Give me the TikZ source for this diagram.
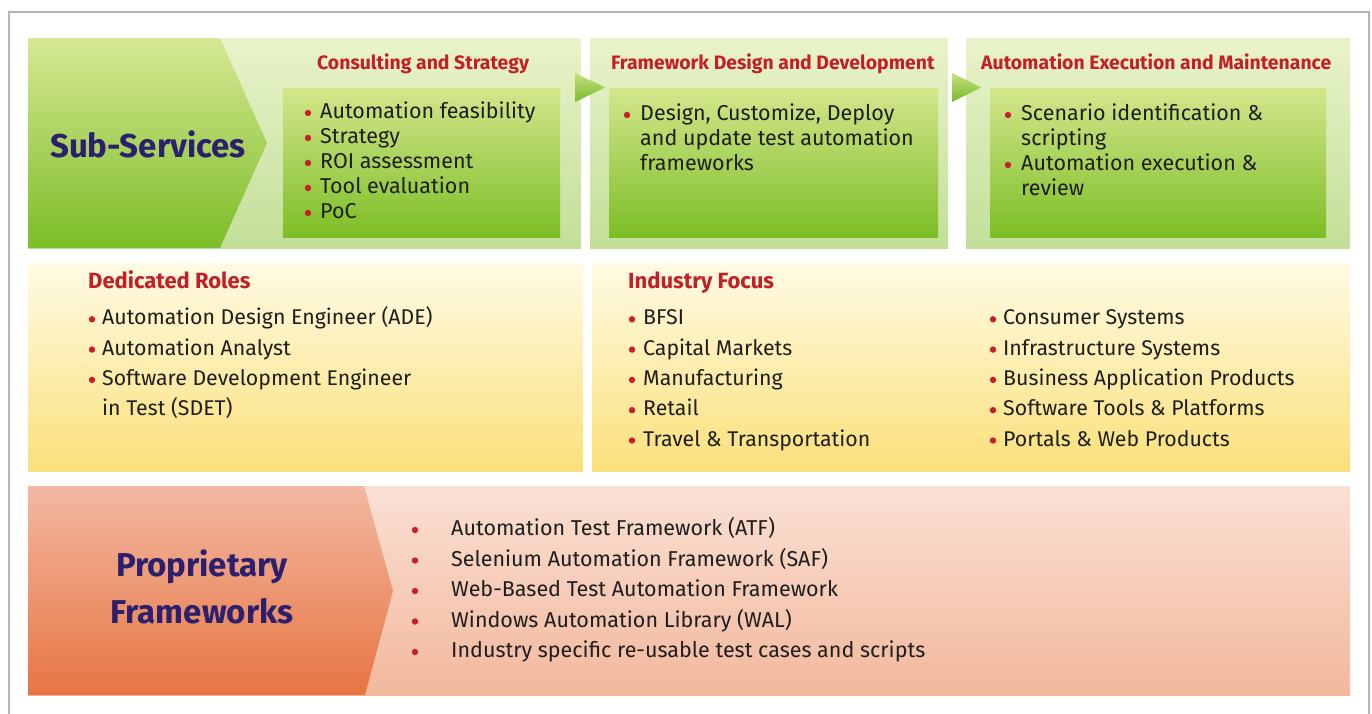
\documentclass[tikz,border=0pt]{standalone}
\usepackage{fontspec}
\setmainfont{Fira Sans}
\definecolor{txtc}{HTML}{1E1E1E}
\definecolor{redt}{HTML}{C41E26}
\definecolor{bulred}{HTML}{C8202A}
\definecolor{navy}{HTML}{2B1F6E}
\definecolor{bordc}{HTML}{B4B4B4}
\definecolor{lgA}{HTML}{E9F3CA}
\definecolor{lgB}{HTML}{C2DF98}
\definecolor{dgA}{HTML}{D6E894}
\definecolor{dgM}{HTML}{ACD458}
\definecolor{dgB}{HTML}{7CBD28}
\definecolor{igA}{HTML}{D4E68C}
\definecolor{igM}{HTML}{B4D862}
\definecolor{igB}{HTML}{7CBE26}
\definecolor{trA}{HTML}{C4E080}
\definecolor{trB}{HTML}{7ABA2A}
\definecolor{yeA}{HTML}{FFFBE4}
\definecolor{yeM}{HTML}{FDF0BC}
\definecolor{yeB}{HTML}{FAE07A}
\definecolor{pkA}{HTML}{FAE0D4}
\definecolor{pkB}{HTML}{F2B89C}
\definecolor{orA}{HTML}{F2B8A2}
\definecolor{orM}{HTML}{F0A888}
\definecolor{orB}{HTML}{E87542}
\begin{document}
\begin{tikzpicture}[x=1pt,y=-1pt,
  itemA/.style={anchor=base west, inner sep=0, text=txtc, font=\fontsize{21.5}{21.5}\selectfont},
  itemB/.style={anchor=base west, inner sep=0, text=txtc, font=\fontsize{21.3}{21.3}\selectfont},
  itemC/.style={anchor=base west, inner sep=0, text=txtc, font=\fontsize{21.5}{21.5}\selectfont},
  redtitle/.style={anchor=base west, inner sep=0, text=redt, font=\fontsize{19.4}{19.4}\selectfont\bfseries},
  redtitleB/.style={anchor=base west, inner sep=0, text=redt, font=\fontsize{22}{22}\selectfont\bfseries},
  bigtitle/.style={anchor=center, inner sep=0, text=navy, font=\fontsize{33}{33}\selectfont\bfseries},
  bul/.style={fill=bulred},
  lgsec/.style={top color=lgA, bottom color=lgB},
  igbox/.style={top color=igA, middle color=igM, bottom color=igB},
  tri/.style={top color=trA, bottom color=trB},
  yebox/.style={top color=yeA, middle color=yeM, bottom color=yeB}
]
\useasboundingbox (0,0) rectangle (1372,713);
\fill[white] (0,0) rectangle (1372,713);
% outer border
\draw[bordc, line width=2] (9,720) -- (9,12) -- (1369,12) -- (1369,720);

% ---------- green band ----------
\shade[lgsec] (28,38) rectangle (581,248);
\shade[lgsec] (590,38) rectangle (948,248);
\shade[lgsec] (966,38) rectangle (1350,248);
\shade[top color=dgA, middle color=dgM, bottom color=dgB]
  (28,38) -- (220,38) -- (267,143) -- (220,248) -- (28,248) -- cycle;
\node[bigtitle] (sub) at (148,144) {Sub-Services};
% inner boxes
\shade[igbox] (283,88) rectangle (560,237);
\shade[igbox] (609,88) rectangle (938,237);
\shade[igbox] (990,88) rectangle (1326,237);
% small arrows
\shade[tri] (575,73) -- (605,87.5) -- (575,102) -- cycle;
\shade[tri] (952,73) -- (981,87.5) -- (952,102) -- cycle;
% titles
\node[redtitle] (t1) at (317,69.5) {Consulting and Strategy};
\node[redtitle] (t2) at (611,69.5) {Framework Design and Development};
\node[redtitle] (t3) at (981,69.5) {Automation Execution and Maintenance};
% box 1
\foreach \t [count=\i] in {Automation feasibility, Strategy, ROI assessment, Tool evaluation, PoC} {
  \pgfmathsetmacro\yy{86+25*\i}
  \fill[bul] (308,\yy+2) circle (3.2);
  \node[itemA] (a\i) at (320,\yy+7.5) {\t};
}
% box 2
\fill[bul] (627,115) circle (3.2);
\node[itemA] (b1) at (640,120.5) {Design, Customize, Deploy};
\node[itemA] (b2) at (640,145.5) {and update test automation};
\node[itemA] (b3) at (640,170.5) {frameworks};
% box 3
\fill[bul] (1008,115) circle (3.2);
\node[itemA] (c1) at (1021,120.5) {Scenario identification \&};
\node[itemA] (c2) at (1021,145.5) {scripting};
\fill[bul] (1008,165) circle (3.2);
\node[itemA] (c3) at (1021,170.5) {Automation execution \&};
\node[itemA] (c4) at (1021,195.5) {review};

% ---------- yellow band ----------
\shade[yebox] (28,263) rectangle (583,471);
\shade[yebox] (592,263) rectangle (1350,471);
\node[redtitleB] (dr) at (88,288.5) {Dedicated Roles};
\node[redtitleB] (if) at (628,288.5) {Industry Focus};
\foreach \t [count=\i] in {Automation Design Engineer (ADE), Automation Analyst, Software Development Engineer} {
  \pgfmathsetmacro\yy{287+30.3*\i}
  \fill[bul] (92,\yy+2) circle (3.2);
  \node[itemB] (d\i) at (102,\yy+7.5) {\t};
}
\node[itemB] (d4) at (102,415.5) {in Test (SDET)};
\foreach \t [count=\i] in {BFSI, Capital Markets, Manufacturing, Retail, Travel \& Transportation} {
  \pgfmathsetmacro\yy{287+30.3*\i}
  \fill[bul] (632,\yy+2) circle (3.2);
  \node[itemB] (e\i) at (643,\yy+7.5) {\t};
}
\foreach \t [count=\i] in {Consumer Systems, Infrastructure Systems, Business Application Products, Software Tools \& Platforms, Portals \& Web Products} {
  \pgfmathsetmacro\yy{287+30.3*\i}
  \fill[bul] (993,\yy+2) circle (3.2);
  \node[itemB] (f\i) at (1003,\yy+7.5) {\t};
}

% ---------- pink band ----------
\shade[top color=pkA, bottom color=pkB] (28,486) rectangle (1350,695);
\shade[top color=orA, middle color=orM, bottom color=orB]
  (28,486) -- (364,486) -- (393,591) -- (365,695) -- (28,695) -- cycle;
\node[bigtitle] (p1) at (202,567) {Proprietary};
\node[bigtitle] (p2) at (202,611) {Frameworks};
\foreach \t [count=\i] in {Automation Test Framework (ATF), Selenium Automation Framework (SAF), Web-Based Test Automation Framework, Windows Automation Library (WAL), Industry specific re-usable test cases and scripts} {
  \pgfmathsetmacro\yy{497.5+30.5*\i}
  \fill[bul] (415,\yy+2) circle (3.2);
  \node[itemC] (g\i) at (451,\yy+7.5) {\t};
}
\end{tikzpicture}
\end{document}
